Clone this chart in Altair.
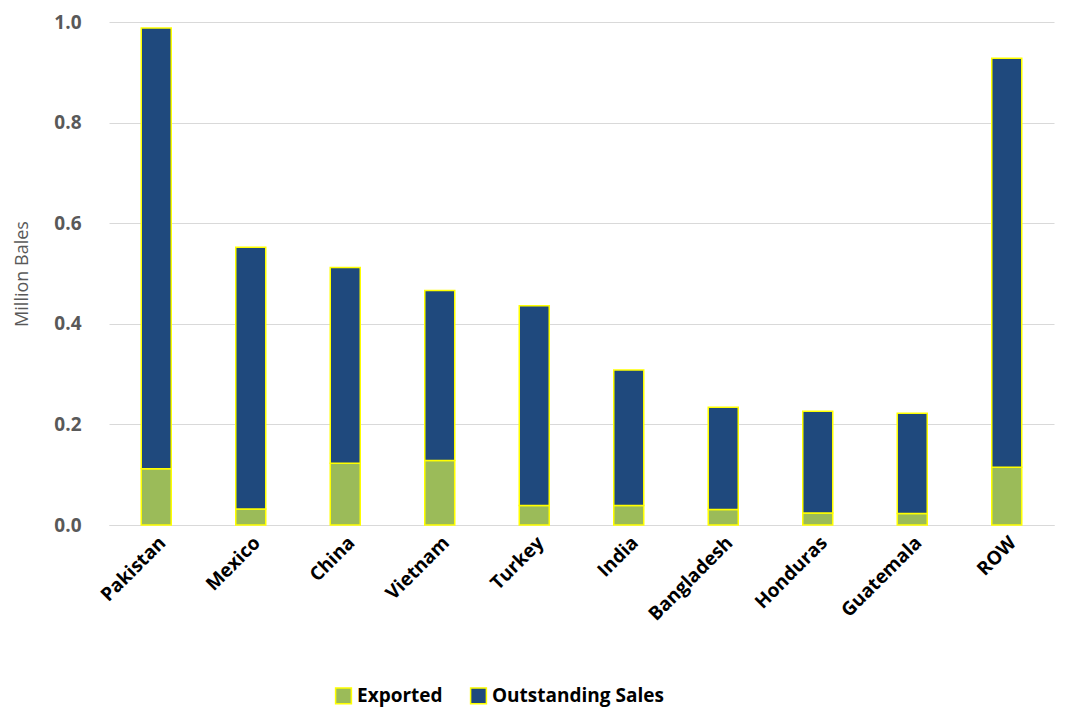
import altair as alt
import pandas as pd

countries = ["Pakistan","Mexico","China","Vietnam","Turkey","India","Bangladesh","Honduras","Guatemala","ROW"]
exported = [0.112,0.032,0.123,0.128,0.039,0.039,0.031,0.024,0.023,0.115]
totals = [0.988,0.552,0.512,0.466,0.436,0.308,0.234,0.226,0.222,0.928]
outstanding = [round(t-e,3) for t,e in zip(totals,exported)]

rows = []
for c,e,o in zip(countries,exported,outstanding):
    rows.append({"country":c,"series":"Exported","value":e,"order":0})
    rows.append({"country":c,"series":"Outstanding Sales","value":o,"order":1})
df = pd.DataFrame(rows)

chart = alt.Chart(df).mark_bar(size=30, stroke="#FFFF00", strokeWidth=1.5).encode(
    x=alt.X("country:N", sort=countries, title=None,
            axis=alt.Axis(labelAngle=-45, labelFontWeight="bold", labelFontSize=19,
                          labelColor="#000", ticks=False, domainColor="#d9d9d9", labelPadding=8)),
    y=alt.Y("value:Q", stack="zero", title="Million Bales",
            scale=alt.Scale(domain=[0,1.0]),
            axis=alt.Axis(values=[0,0.2,0.4,0.6,0.8,1.0], format=".1f", labelFontWeight="bold",
                          labelFontSize=19, labelColor="#595959", titleFontSize=18,
                          titleFontWeight="normal", titleColor="#595959", domain=False,
                          ticks=False, gridColor="#d9d9d9", labelPadding=28, titlePadding=22)),
    color=alt.Color("series:N", scale=alt.Scale(domain=["Exported","Outstanding Sales"],
                    range=["#9BBB59","#1F497D"]),
                    legend=alt.Legend(orient="none", legendX=225, legendY=664, direction="horizontal",
                                      title=None, labelFontSize=19, labelLimit=0,
                                      labelFontWeight="bold", labelColor="#000",
                                      symbolType="square", symbolSize=250,
                                      symbolStrokeColor="#FFFF00", symbolStrokeWidth=1.5,
                                      columnPadding=24)),
    order=alt.Order("order:Q"),
).properties(width=945, height=503).configure(font="Open Sans").configure_view(stroke=None)

chart.save("out.html", embed_options={"renderer": "svg", "actions": False})
